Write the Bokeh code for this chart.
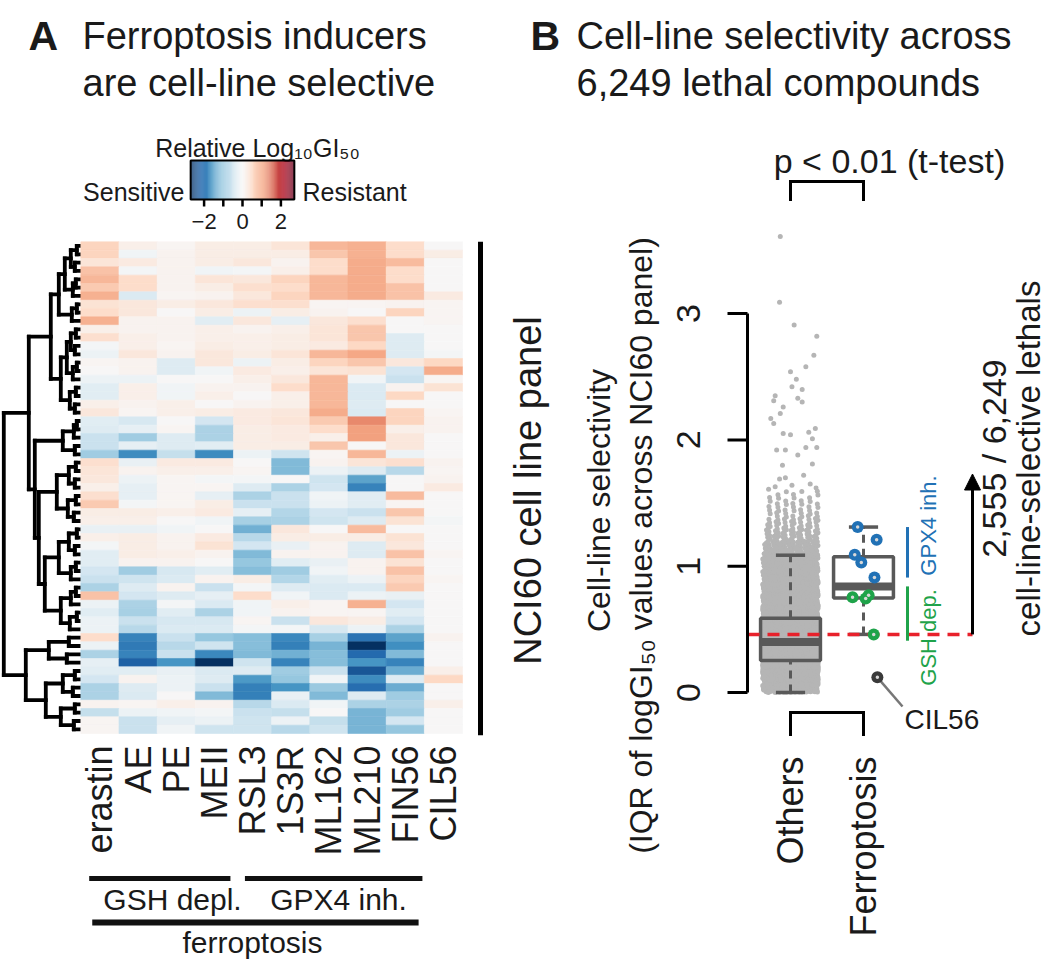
import numpy as np
from bokeh.plotting import figure
from bokeh.models import Range1d, LinearColorMapper, ColumnDataSource, Arrow, NormalHead
from bokeh.layouts import row
from bokeh.embed import file_html
from bokeh.resources import INLINE
from bokeh.core.properties import value

# ======================= DATA =======================
compounds = ["erastin", "AE", "PE", "MEII", "RSL3", "1S3R", "ML162", "ML210", "FIN56", "CIL56"]
gsh_depl = ["erastin", "AE", "PE", "MEII"]
gpx4_inh = ["RSL3", "1S3R", "ML162", "ML210", "FIN56"]
ferroptosis_set = gsh_depl + gpx4_inh

# relative log10 GI50, rows = NCI60 cell lines in dendrogram order, columns = compounds
rel_log_gi50 = [
    [0.6, 0.15, 0.05, 0.2, 0.2, 0.35, 0.9, 0.95, 0.5, 0.0],
    [0.6, -0.1, 0.1, 0.2, 0.2, 0.2, 0.75, 0.95, 0.5, 0.2],
    [0.35, 0.25, 0.1, 0.2, 0.3, 0.1, 0.5, 1.0, 0.85, 0.0],
    [0.8, -0.05, 0.1, -0.1, -0.05, 0.15, 0.5, 1.0, 0.5, 0.0],
    [0.9, 0.5, 0.1, 0.35, 0.3, 0.6, 0.9, 1.0, 0.5, 0.0],
    [0.7, 0.5, 0.1, 0.2, 0.45, 0.5, 0.9, 1.0, 0.8, 0.0],
    [0.95, -0.4, 0.05, 0.1, 0.3, 0.6, 0.9, 1.0, 0.8, 0.25],
    [0.4, 0.3, 0.2, 0.3, 0.45, 0.45, 0.05, 0.05, 0.1, 0.05],
    [0.5, 0.3, 0.0, 0.2, -0.15, 0.2, 0.1, 0.0, 0.6, 0.05],
    [0.95, 0.1, 0.1, -0.3, 0.3, -0.25, 0.3, 0.45, 0.0, 0.05],
    [0.15, 0.1, 0.1, 0.15, 0.1, 0.15, 0.35, 0.75, 0.0, 0.0],
    [0.45, 0.15, 0.1, 0.15, 0.15, 0.2, 0.35, 0.75, -0.35, 0.0],
    [-0.05, 0.15, 0.05, 0.2, 0.15, 0.2, 0.25, 0.55, -0.35, 0.0],
    [-0.15, 0.3, 0.1, 0.3, 0.2, 0.35, 0.9, 1.05, -0.35, -0.05],
    [0.05, 0.1, -0.35, 0.3, -0.15, 0.2, 0.6, 0.75, 0.3, 0.55],
    [0.0, 0.1, -0.35, -0.1, 0.25, 0.15, 0.35, 0.4, -0.5, 1.0],
    [-0.15, -0.15, 0.0, 0.0, 0.15, 0.3, 0.9, -0.1, -0.6, 0.05],
    [-0.3, 0.15, -0.1, 0.1, 0.1, 0.5, 0.9, -0.4, 0.1, 0.4],
    [-0.3, 0.15, -0.1, 0.15, 0.0, 0.15, 0.9, -0.4, 0.55, 0.0],
    [0.15, 0.1, 0.15, 0.0, 0.1, 0.15, 0.9, -0.35, 0.0, 0.0],
    [0.3, 0.05, 0.15, 0.2, 0.25, 0.3, 1.0, -0.4, 0.6, 0.05],
    [-0.3, -0.45, 0.0, -0.5, 0.25, 0.35, 0.7, 1.3, 0.6, 0.1],
    [-0.35, -0.25, 0.05, -0.85, 0.2, 0.25, 0.5, 1.1, 0.15, 0.1],
    [-0.6, -0.95, -0.35, -0.85, 0.2, 0.25, 0.15, 1.1, 0.3, 0.0],
    [-0.6, -0.25, -0.35, -0.3, 0.2, 0.2, 0.75, 0.0, 0.3, 0.0],
    [-0.95, -1.7, -0.65, -1.7, -0.15, -0.55, 0.05, 0.9, -0.15, 0.0],
    [0.45, -0.2, 0.25, 0.25, 0.0, -1.2, 0.1, 0.35, 0.45, 0.1],
    [0.35, 0.1, 0.15, 0.15, 0.05, -1.2, -0.15, -0.35, -0.75, 0.05],
    [0.3, -0.15, 0.05, -0.05, -0.05, 0.0, -0.55, -1.45, 0.0, 0.1],
    [0.15, -0.25, 0.05, 0.05, -0.35, -0.85, -0.5, -1.8, 0.0, 0.25],
    [0.45, -0.25, 0.05, -0.25, -0.85, -0.6, -0.1, -0.3, 0.85, 0.0],
    [0.7, -0.05, 0.05, 0.2, -0.6, -0.6, -0.15, -0.3, 0.05, 0.0],
    [0.2, 0.2, 0.15, 0.25, -0.25, -0.8, -0.5, -0.6, 0.75, 0.0],
    [0.15, 0.15, 0.0, -0.1, -0.9, -0.85, -0.55, -0.35, 0.4, -0.05],
    [-0.2, -0.2, -0.1, 0.0, -1.3, 0.3, 0.0, 0.85, 0.0, 0.0],
    [0.15, 0.2, 0.1, 0.25, -0.75, 0.2, 0.2, 0.2, 0.4, 0.0],
    [-0.05, 0.2, 0.1, 0.4, -0.5, -0.2, 0.1, -0.35, 0.3, 0.0],
    [-0.3, 0.2, 0.15, 0.1, -1.2, 0.1, 0.1, -0.35, 0.8, 0.05],
    [-0.3, 0.1, 0.1, 0.0, -1.05, -0.3, -0.2, 0.1, 0.4, 0.0],
    [-0.5, -0.95, -0.45, -0.3, -1.15, -0.95, -0.1, 0.1, 0.8, 0.0],
    [-0.6, -0.55, -0.4, 0.1, 0.2, -0.8, -0.3, -0.15, 0.6, 0.05],
    [-0.85, -0.35, 0.1, -0.6, -0.05, -0.35, -0.4, -0.4, 0.7, 0.0],
    [0.8, -0.5, -0.35, -0.25, 0.5, -0.1, -0.4, -0.15, -0.2, 0.0],
    [-0.15, -0.85, -0.05, -0.4, -0.1, 0.15, 0.05, 0.95, -0.5, 0.0],
    [-0.3, -0.9, -0.3, -0.85, -0.1, 0.1, 0.05, 0.05, -0.3, 0.0],
    [-0.15, -0.6, -0.45, -0.45, 0.05, -0.6, 0.3, 0.2, -0.5, 0.0],
    [-0.15, -0.75, -0.4, -0.4, -0.05, -0.05, -0.45, -0.15, -0.85, 0.0],
    [0.5, -1.8, -0.6, -1.05, -1.15, -1.75, -0.9, -2.0, -1.45, 0.1],
    [-0.15, -1.9, -0.75, -0.55, -1.15, -1.85, -1.25, -2.7, -1.65, 0.0],
    [-0.85, -1.8, -0.6, -1.75, -1.2, -1.3, -1.15, -2.1, -1.2, 0.0],
    [-0.25, -2.2, -1.6, -2.7, -0.55, -1.8, -1.15, -1.6, -1.8, 0.0],
    [-0.3, -0.3, -0.2, -0.4, -0.35, -0.95, -0.6, -2.3, -1.35, 0.15],
    [-0.5, 0.1, -0.15, -0.35, -1.55, -1.05, -0.1, -1.7, -0.35, 0.55],
    [-0.85, -0.35, -0.15, -0.6, -1.85, -1.6, -1.0, -2.05, -1.35, 0.0],
    [-0.85, -0.4, 0.0, -1.2, -1.85, -0.2, -1.2, -0.35, -0.95, 0.0],
    [0.1, 0.05, 0.15, 0.1, -0.75, -0.4, -0.1, -0.85, -0.85, 0.15],
    [-0.65, -0.15, -0.1, -0.05, -0.6, -0.65, 0.0, -1.25, -0.95, 0.0],
    [0.05, -0.6, -0.25, -0.15, -0.55, -0.15, -0.65, -1.25, -0.5, 0.0],
    [0.05, -0.6, -0.1, -0.55, -0.55, -0.75, -0.55, -1.25, -1.05, 0.0],
]

# row dendrogram: (merge height, left, right); leaves are row indices
dendrogram_tree = (
    77,
    (52,
     (30,
      (22, (16, (10, (4, 0, 1), (6, 2, 3)), (8, (5, 4, 5), 6)), (9, (4, 7, 8), 9)),
      (20, (14, (10, (5, 10, 11), (6, 12, 13)), (8, (4, 14, 15), 16)), (11, (5, 17, 18), (6, 19, 20)))),
     (46,
      (18, (7, (4, 21, 22), 23), (6, 24, 25)),
      (42,
       (24, (12, (5, 26, 27), (6, 28, 29)), (13, (5, 30, 31), (7, 32, 33))),
       (36,
        (22, (12, (4, 34, 35), (6, 36, 37)), (10, (5, 38, 39), 40)),
        (20, (10, (5, 41, 42), 43), (11, (4, 44, 45), 46)))))),
    (55,
     (32, (12, 47, 48), (14, 49, 50)),
     (35, (18, (6, 51, 52), (8, 53, 54)), (20, (6, 55, 56), (7, 57, 58)))),
)

colorbar_ticks = [-2, -1, 0, 1, 2]
colorbar_labels = [-2, 0, 2]
color_limit = 2.7
rdbu = ["#053061", "#2166ac", "#4393c3", "#92c5de", "#d1e5f0", "#f7f7f7",
        "#fddbc7", "#f4a582", "#d6604d", "#b2182b", "#67001f"]

# ---- panel B ----
categories = ["Others", "Ferroptosis"]
y_ticks = [0, 1, 2, 3]
others_box = [0.0, 0.254, 0.40, 0.587, 1.087]  # lower whisker, Q1, median, Q3, upper whisker
others_bin_start = [0.0, 0.1, 0.2, 0.3, 0.4, 0.5, 0.6, 0.7, 0.8, 0.9, 1.0, 1.1, 1.2, 1.3, 1.4, 1.5]
others_bin_count = [220, 720, 1050, 1150, 950, 650, 450, 320, 230, 160, 110, 75, 50, 35, 22, 14]
others_sparse_value = [3.61, 3.09, 2.91, 2.82, 2.67, 2.58, 2.54, 2.48, 2.42, 2.40, 2.35, 2.31, 2.33,
                       2.30, 2.26, 2.21, 2.17, 2.13, 2.09, 2.05, 2.04, 2.06, 2.01, 1.94, 1.92, 1.92,
                       1.94, 1.88, 1.80, 1.81, 1.72, 1.69, 1.70, 1.63, 1.64, 1.65, 1.61, 1.62]
others_sparse_jitter = [-0.14, -0.15, 0.05, 0.36, 0.32, 0.21, 0.0, 0.08, 0.02, 0.16, -0.21, -0.23, 0.10,
                        0.16, -0.10, -0.14, -0.27, -0.23, 0.34, -0.10, 0.0, 0.25, 0.30, 0.36, -0.19, -0.07,
                        0.21, 0.10, -0.11, 0.30, 0.18, -0.15, -0.07, -0.21, 0.02, 0.27, -0.30, 0.35]
ferro_names = ["erastin", "AE", "PE", "MEII", "RSL3", "1S3R", "ML162", "ML210", "FIN56", "CIL56"]
ferro_class = ["GSH", "GSH", "GSH", "GSH", "GPX4", "GPX4", "GPX4", "GPX4", "GPX4", "none"]
ferro_value = [0.46, 0.755, 0.745, 0.77, 1.31, 1.21, 1.09, 1.03, 0.91, 0.12]
ferro_jitter = [0.14, -0.15, 0.03, 0.07, -0.08, 0.18, -0.12, -0.03, 0.15, 0.19]
threshold = 0.46
arrow_top = 1.73
n_selective, n_total = "2,555", "6,249"

# ======================= STYLE / LAYOUT =======================
FONT = value("Liberation Sans")
TXT = "#1a1a1a"
BLUE = "#2171b5"
GREEN = "#1fa34a"
RED = "#e8212b"
BOXC = "#595959"
AX0, AX1 = 0, 560        # panel A spans reference x 0..560
BX0, BX1 = 560, 1049     # panel B spans reference x 560..1049
TOP, BOT = 0, 960
H = BOT - TOP

def interp_palette(pal, n):
    rgb = np.array([[int(c[i:i + 2], 16) for i in (1, 3, 5)] for c in pal], float)
    pos = np.linspace(0, 1, len(pal))
    t = np.linspace(0, 1, n)
    out = np.stack([np.interp(t, pos, rgb[:, k]) for k in range(3)], axis=1)
    return ["#%02x%02x%02x" % tuple(int(round(v)) for v in r) for r in out]

palette = interp_palette(rdbu, 256)
mapper = LinearColorMapper(palette=palette, low=-color_limit, high=color_limit)

def txt(p, x, y, s, size, **kw):
    opts = dict(text_font=FONT, text_font_size=size, text_color=TXT,
                text_align="center", text_baseline="middle")
    opts.update(kw)
    return p.text(x=x, y=y, text=s, **opts)

# ======================= PANEL A =======================
heat_left, heat_right, heat_top, heat_bottom = 80.3, 462.0, 241.3, 733.0
mat = np.array(rel_log_gi50)
nrow, ncol = mat.shape
colw = (heat_right - heat_left) / ncol
rowh = (heat_bottom - heat_top) / nrow

pA = figure(width=AX1 - AX0, height=H, output_backend="svg", toolbar_location=None, title=None,
            x_axis_location=None, y_axis_location=None, min_border=0, outline_line_color=None,
            x_range=Range1d(-0.5 - (heat_left - AX0) / colw, ncol - 0.5 + (AX1 - heat_right) / colw),
            y_range=Range1d(-0.5 + (BOT - heat_top) / rowh, -0.5 - (heat_top - TOP) / rowh))
pA.grid.visible = False
pA.extra_x_ranges = {"px": Range1d(AX0, AX1), "dend": Range1d(heat_left - AX0, heat_left - AX1),
                     "cb": Range1d((AX0 - 242) / 19.2, (AX1 - 242) / 19.2)}
pA.extra_y_ranges = {"px": Range1d(BOT, TOP)}

# dendrogram
seg = dict(x0=[], y0=[], x1=[], y1=[])
def walk(node):
    if isinstance(node, int):
        return float(node), 0.0
    h, l, r = node
    yl, hl = walk(l)
    yr, hr = walk(r)
    seg["x0"].append(h); seg["y0"].append(yl); seg["x1"].append(h); seg["y1"].append(yr)
    for yy, hh in ((yl, hl), (yr, hr)):
        seg["x0"].append(h); seg["y0"].append(yy); seg["x1"].append(hh); seg["y1"].append(yy)
    return (yl + yr) / 2, h
walk(dendrogram_tree)
pA.segment(x0="x0", y0="y0", x1="x1", y1="y1", source=ColumnDataSource(seg), x_range_name="dend",
           line_color="black", line_width=3.8, line_cap="square")

# heatmap
hx, hy, hv = [], [], []
for i in range(nrow):
    for j in range(ncol):
        hx.append(j); hy.append(i); hv.append(mat[i, j])
pA.rect(x="x", y="y", width=1, height=1, source=ColumnDataSource(dict(x=hx, y=hy, v=hv)),
        fill_color={"field": "v", "transform": mapper},
        line_color={"field": "v", "transform": mapper}, line_width=0.6)

# NCI60 bar + label
pA.segment(x0=[480], x1=[480], y0=[-0.5], y1=[nrow - 0.3], x_range_name="px", line_color="black", line_width=5)
txt(pA, [527], [490], ["NCI60 cell line panel"], "38px", angle=np.pi / 2, x_range_name="px", y_range_name="px")

# column labels
txt(pA, list(range(ncol)), [745] * ncol, compounds, "36px", angle=np.pi / 2, text_align="right",
    y_range_name="px")

# group bars
gi = [compounds.index(c) for c in gsh_depl]
pi = [compounds.index(c) for c in gpx4_inh]
fi = [compounds.index(c) for c in ferroptosis_set]
pA.segment(x0=[min(gi) - 0.28, min(pi) - 0.2], x1=[max(gi) + 0.42, max(pi) + 0.45], y0=[878, 878], y1=[878, 878],
           y_range_name="px", line_color="#111111", line_width=5)
pA.segment(x0=[min(fi) - 0.2], x1=[max(fi) + 0.35], y0=[922], y1=[922], y_range_name="px",
           line_color="#111111", line_width=6)
txt(pA, [172, 338], [899, 899], ["GSH depl.", "GPX4 inh."], "30px", x_range_name="px", y_range_name="px")
txt(pA, [252], [942], ["ferroptosis"], "30px", x_range_name="px", y_range_name="px")

# titles
txt(pA, [28, 530], [35, 35], ["A", "B"], "41px", text_font_style="bold", text_align="left",
    text_baseline="alphabetic", x_range_name="px", y_range_name="px")
txt(pA, [82, 82], [35, 82], ["Ferroptosis inducers", "are cell-line selective"], "38px", text_align="left",
    text_baseline="alphabetic", x_range_name="px", y_range_name="px")

# colour legend
txt(pA, [257], [147], ["Relative Log\u2081\u2080GI\u2085\u2080"], "25px", text_baseline="alphabetic",
    x_range_name="px", y_range_name="px")
txt(pA, [184], [191], ["Sensitive"], "25px", text_align="right", text_baseline="alphabetic",
    x_range_name="px", y_range_name="px")
txt(pA, [302], [191], ["Resistant"], "25px", text_align="left", text_baseline="alphabetic",
    x_range_name="px", y_range_name="px")
steps = np.linspace(-color_limit, color_limit, 109)
pA.quad(left=steps[:-1], right=steps[1:], top=160, bottom=199,
        fill_color=[palette[int(round((s + color_limit) / (2 * color_limit) * 255))] for s in (steps[:-1] + steps[1:]) / 2],
        line_color=None, x_range_name="cb", y_range_name="px")
pA.quad(left=[-color_limit], right=[color_limit], top=[160], bottom=[199], fill_color=None,
        line_color="black", line_width=2, x_range_name="cb", y_range_name="px")
pA.segment(x0=colorbar_ticks, x1=colorbar_ticks, y0=[199] * 5, y1=[206] * 5, line_color="black",
           line_width=2.5, x_range_name="cb", y_range_name="px")
txt(pA, colorbar_labels, [221] * len(colorbar_labels), [str(t).replace("-", "\u2212") for t in colorbar_labels],
    "22px", x_range_name="cb", y_range_name="px")

# ======================= PANEL B =======================
X1_REF, XU = 790.0, 73.0          # reference x of "Others", px per category unit
Y0_REF, YU = 692.0, 126.3         # reference y of value 0, px per unit
def bx(ref): return 1 + (ref - X1_REF) / XU
def by(ref): return (Y0_REF - ref) / YU

pB = figure(width=BX1 - BX0, height=H, output_backend="svg", toolbar_location=None, title=None,
            x_axis_location=None, y_axis_location=None, min_border=0, outline_line_color=None,
            x_range=Range1d(bx(BX0), bx(BX1)), y_range=Range1d(by(BOT), by(TOP)))
pB.grid.visible = False
pB.extra_x_ranges = {"px": Range1d(BX0, BX1)}
pB.extra_y_ranges = {"px": Range1d(BOT, TOP)}

# Others: dense cloud expanded from binned counts, then sparse points
ox, oy = [], []
for lo, n in zip(others_bin_start, others_bin_count):
    k = np.arange(n) + 0.5
    oy.extend(lo + 0.1 * np.mod(k * 0.7548776662, 1.0))
    ox.extend(1 + 0.38 * (2 * np.mod(k * 0.5698402910, 1.0) - 1))
ox.extend([1 + j for j in others_sparse_jitter])
oy.extend(others_sparse_value)
pB.scatter(x=ox, y=oy, size=5, fill_color="#b5b5b5", line_color=None)

# boxes
fv = np.array(ferro_value)
q1, med, q3 = np.percentile(fv, [25, 50, 75])
iqr = q3 - q1
ferro_box = [fv[fv >= q1 - 1.5 * iqr].min(), q1, med, q3, fv[fv <= q3 + 1.5 * iqr].max()]
for xc, (lw_, b1, md, b3, uw) in zip([1, 2], [others_box, ferro_box]):
    pB.segment(x0=[xc, xc], x1=[xc, xc], y0=[lw_, b3], y1=[b1, uw], line_color=BOXC, line_width=3,
               line_dash="8 6")
    pB.segment(x0=[xc - 0.2, xc - 0.2], x1=[xc + 0.2, xc + 0.2], y0=[lw_, uw], y1=[lw_, uw],
               line_color=BOXC, line_width=3.5)
    pB.quad(left=[xc - 0.41], right=[xc + 0.41], bottom=[b1], top=[b3], fill_color=None,
            line_color=BOXC, line_width=3.5)
    pB.segment(x0=[xc - 0.41], x1=[xc + 0.41], y0=[md], y1=[md], line_color=BOXC, line_width=8)

# threshold line and arrow
pB.segment(x0=[747], x1=[972], y0=[threshold], y1=[threshold], x_range_name="px",
           line_color=RED, line_width=3.5, line_dash="12 8")
pB.add_layout(Arrow(end=NormalHead(size=16, fill_color="black", line_color="black"),
                    x_start=972, y_start=threshold, x_end=972, y_end=arrow_top,
                    line_width=3, line_color="black", x_range_name="px"))

# ferroptosis points
cmap = {"GSH": GREEN, "GPX4": BLUE, "none": "#3a3a3a"}
fx = [2 + j for j in ferro_jitter]
cil = ferro_names.index("CIL56")
pB.segment(x0=[fx[cil]], y0=[ferro_value[cil]], x1=[bx(902)], y1=[by(706)], line_color="#777777", line_width=2.5)
pB.scatter(x=fx, y=ferro_value, size=12, fill_color=[cmap[c] for c in ferro_class], line_color=None)
pB.scatter(x=fx, y=ferro_value, size=3.5, fill_color="#d8d8d8", line_color=None)
txt(pB, [904], [719], ["CIL56"], "28px", text_align="left", x_range_name="px", y_range_name="px")

# group span lines and labels
gv = [v for v, c in zip(ferro_value, ferro_class) if c == "GSH"]
pv = [v for v, c in zip(ferro_value, ferro_class) if c == "GPX4"]
pB.segment(x0=[907, 907], x1=[907, 907], y0=[min(gv) - 0.05, min(pv)], y1=[max(gv) + 0.07, max(pv)],
           line_color=[GREEN, BLUE], line_width=3, x_range_name="px")
txt(pB, [928], [637], ["GSH dep."], "22px", text_color=GREEN, angle=np.pi / 2, x_range_name="px", y_range_name="px")
txt(pB, [928], [525], ["GPX4 inh."], "22px", text_color=BLUE, angle=np.pi / 2, x_range_name="px", y_range_name="px")

# selective-lethal annotation
txt(pB, [993], [458], [f"{n_selective} / {n_total}"], "34px", angle=np.pi / 2, x_range_name="px", y_range_name="px")
txt(pB, [1028], [458], ["cell-line-selective lethals"], "33px", angle=np.pi / 2, x_range_name="px", y_range_name="px")

# y axis (R style)
pB.segment(x0=[747], x1=[747], y0=[min(y_ticks)], y1=[max(y_ticks)], x_range_name="px",
           line_color="black", line_width=3)
pB.segment(x0=[727] * len(y_ticks), x1=[747] * len(y_ticks), y0=y_ticks, y1=y_ticks, x_range_name="px",
           line_color="black", line_width=3)
txt(pB, [688] * len(y_ticks), y_ticks, [str(t) for t in y_ticks], "34px", angle=np.pi / 2, x_range_name="px")
txt(pB, [598], [500], ["Cell-line selectivity"], "32px", angle=np.pi / 2, x_range_name="px", y_range_name="px")
txt(pB, [640], [545], ["(IQR of logGI\u2085\u2080 values across NCI60 panel)"], "32px", angle=np.pi / 2,
    x_range_name="px", y_range_name="px")

# category labels and brackets
txt(pB, [1, 2], [756, 756], categories, "36px", angle=np.pi / 2, text_align="right", y_range_name="px")
for ytop, ybot in ((181, 199), (712, 734)):
    pB.segment(x0=[1, 1, 2], x1=[2, 1, 2], y0=[ytop, ytop, ytop], y1=[ytop, ybot, ybot], y_range_name="px",
               line_color="black", line_width=3, line_cap="square")
txt(pB, [889], [160], ["p < 0.01 (t-test)"], "34px", x_range_name="px", y_range_name="px")

# panel B title
txt(pB, [576, 576], [35, 82], ["Cell-line selectivity across", "6,249 lethal compounds"], "38px",
    text_align="left", text_baseline="alphabetic", x_range_name="px", y_range_name="px")

layout = row(pA, pB)
open("out.html", "w").write(file_html(layout, INLINE))
